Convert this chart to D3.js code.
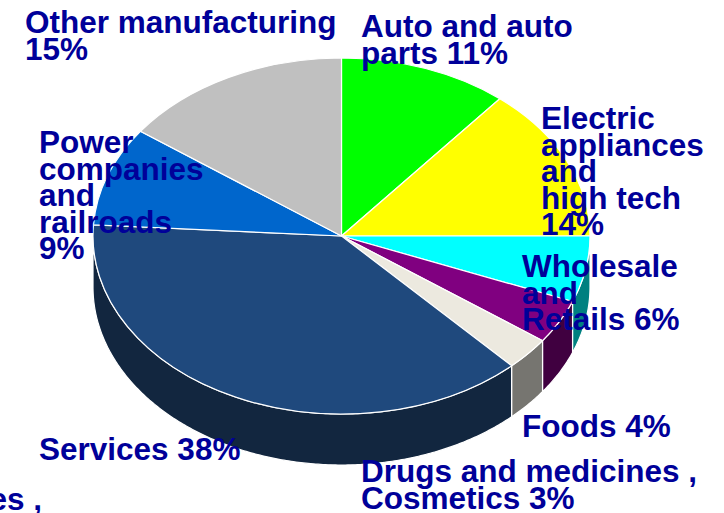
<!DOCTYPE html>
<html>
<head>
<meta charset="utf-8">
<script src="https://cdnjs.cloudflare.com/ajax/libs/d3/7.8.5/d3.min.js"></script>
<style>
html, body { margin: 0; padding: 0; background: #fff; overflow: hidden; }
svg { display: block; }
text { font-family: "Liberation Sans", Arial, sans-serif; font-weight: bold; font-size: 31.5px; fill: #000099; }
</style>
</head>
<body>
<svg width="724" height="513"></svg>
<script>
// Industry shares, clockwise from twelve o'clock
const sectors = ["Auto and auto parts", "Electric appliances and high tech", "Wholesale and Retails", "Foods", "Drugs and medicines , Cosmetics", "Services", "Power companies and railroads", "Other manufacturing"];
const shares = [11, 14, 6, 4, 3, 38, 9, 15];
const topColors = ["#00ff00", "#ffff00", "#00ffff", "#800080", "#ece9df", "#1f497d", "#0066cc", "#c0c0c0"];
const wallColors = ["#008000", "#808000", "#008080", "#400040", "#767570", "#12263f", "#003366", "#606060"];

// Wrapped label lines and where each block starts
const labelLines = [
  ["Auto and auto", "parts 11%"],
  ["Electric", "appliances", "and", "high tech", "14%"],
  ["Wholesale", "and", "Retails 6%"],
  ["Foods 4%"],
  ["Drugs and medicines ,", "Cosmetics 3%"],
  ["Services 38%"],
  ["Power", "companies", "and", "railroads", "9%"],
  ["Other manufacturing", "15%"]
];
const labelX = [361, 541, 522, 522, 361, 39, 39, 25];
const labelY = [37, 129, 277, 437, 482, 460, 153, 33];
const lineStep = 26.5;

const cx = 341.5, cy = 236, rx = 248.5, ry = 178, depth = 51;
const svg = d3.select("svg");

const pie = d3.pie().sort(null).value(d => d)(shares);

// Tilted disc: x and y scales map the unit circle onto the ellipse
const sx = d3.scaleLinear().domain([-1, 1]).range([cx - rx, cx + rx]);
const sy = d3.scaleLinear().domain([-1, 1]).range([cy - ry, cy + ry]);
const px = a => sx(Math.sin(a));
const py = a => sy(-Math.cos(a));

// Outer wall of a slice, limited to the half of the rim facing the viewer
function wallPath(d) {
  const a0 = Math.max(d.startAngle, Math.PI / 2);
  const a1 = Math.min(d.endAngle, Math.PI * 1.5);
  if (a1 <= a0) return null;
  const n = Math.ceil((a1 - a0) / 0.01);
  const angles = d3.range(n + 1).map(i => a0 + (a1 - a0) * i / n);
  const rim = angles.map(a => [px(a), py(a)]);
  const lower = angles.slice().reverse().map(a => [px(a), py(a) + depth]);
  return d3.line()(rim.concat(lower)) + "Z";
}

svg.append("g").selectAll("path")
  .data(pie.filter(d => wallPath(d)))
  .join("path")
  .attr("d", wallPath)
  .attr("fill", d => wallColors[d.index])
  .attr("stroke", "#fff")
  .attr("stroke-width", 1.2);

const arc = d3.arc().innerRadius(0).outerRadius(1);
svg.append("g")
  .attr("transform", `translate(${cx},${cy}) scale(${rx},${ry})`)
  .selectAll("path")
  .data(pie)
  .join("path")
  .attr("d", arc)
  .attr("fill", d => topColors[d.index])
  .attr("stroke", "#fff")
  .attr("stroke-width", 1.2)
  .attr("vector-effect", "non-scaling-stroke");

const labels = svg.append("g");
labelLines.forEach((lines, i) => {
  const t = labels.append("text").attr("x", labelX[i]).attr("y", labelY[i]);
  t.selectAll("tspan").data(lines).join("tspan")
    .attr("x", labelX[i])
    .attr("y", (_, j) => labelY[i] + j * lineStep)
    .text(d => d);
});

// Second copy of the drugs label, running off the lower left corner
labels.append("text")
  .attr("x", 42).attr("y", 510)
  .attr("text-anchor", "end")
  .text(labelLines[4][0]);
</script>
</body>
</html>
